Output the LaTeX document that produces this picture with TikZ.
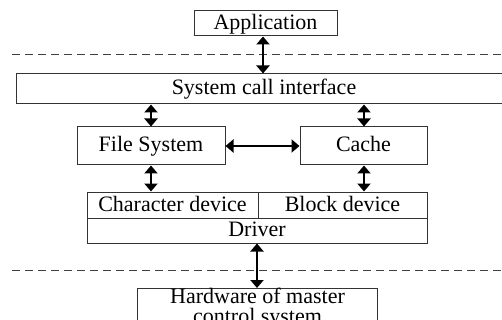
\documentclass[tikz,border=0pt]{standalone}
\usepackage{fontspec}
\setmainfont{Liberation Serif}
\usetikzlibrary{arrows.meta}

\begin{document}
\begin{tikzpicture}[x=1pt, y=-1pt,
  box/.style={draw=black!80, line width=1pt, inner sep=0pt, font=\fontsize{22}{20}\selectfont},
  one/.style={text height=16pt, text depth=4pt},
  link/.style={{Triangle[width=13pt,length=8pt]}-{Triangle[width=13pt,length=8pt]}, line width=2.6pt},
  layer/.style={dashed, dash pattern=on 8pt off 5pt, line width=1pt, black!75}]
\useasboundingbox (0,0) rectangle (502,320);
\clip (0,0) rectangle (502,320);
% layers
\draw[layer] (12,55) -- (502,55);
\draw[layer] (12,270) -- (502,270);
% blocks
\node[box, one, minimum width=143, minimum height=25] (app) at (265.5,23.5) {Application};
\node[box, minimum width=500, minimum height=30, anchor=west] (sci) at (16,89) {};
\node[one, inner sep=0pt, font=\fontsize{22}{20}\selectfont] (scit) at (264,89) {System call interface};
\node[box, one, minimum width=148, minimum height=38] (fs) at (151,146) {File System};
\node[box, one, minimum width=127, minimum height=38] (cache) at (363.5,146) {Cache};
\node[box, one, minimum width=171, minimum height=26] (chr) at (172.5,205) {Character device};
\node[box, one, minimum width=169, minimum height=26] (blk) at (342.5,205) {Block device};
\node[box, one, minimum width=340, minimum height=25] (drv) at (257,230.5) {Driver};
\node[box, minimum width=240, minimum height=36, anchor=north, align=center] (hw) at (257.5,288) {Hardware of master\\control system};
% links
\draw[link] (app.south -| 263,0) -- (sci.north -| 263,0);
\draw[link] (sci.south -| fs) -- (fs.north);
\draw[link] (sci.south -| 364,0) -- (cache.north -| 364,0);
\draw[link] (fs.east) -- (cache.west);
\draw[link] (fs.south) -- (chr.north -| fs);
\draw[link] (cache.south -| 364,0) -- (blk.north -| 364,0);
\draw[link] (drv.south -| 257,0) -- (hw.north -| 257,0);
\end{tikzpicture}
\end{document}
